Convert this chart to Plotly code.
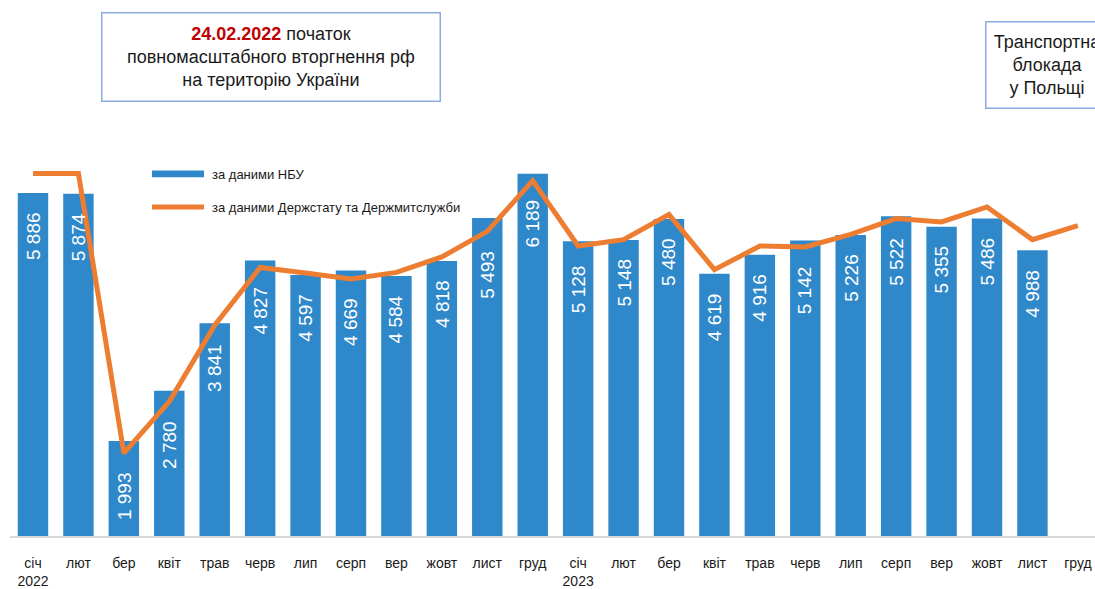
import plotly.graph_objects as go

# ---- data ----
months = ["січ<br>2022", "лют", "бер", "квіт", "трав", "черв", "лип", "серп", "вер", "жовт", "лист", "груд",
          "січ<br>2023", "лют", "бер", "квіт", "трав", "черв", "лип", "серп", "вер", "жовт", "лист", "груд"]
nbu_values = [5886, 5874, 1993, 2780, 3841, 4827, 4597, 4669, 4584, 4818, 5493, 6189,
              5128, 5148, 5480, 4619, 4916, 5142, 5226, 5522, 5355, 5486, 4988]
stat_values = [6194, 6194, 1800, 2610, 3810, 4718, 4630, 4537, 4640, 4883, 5284, 6080,
               5054, 5154, 5548, 4682, 5054, 5039, 5238, 5485, 5432, 5668, 5154, 5375]
series_names = ["за даними НБУ", "за даними Держстату та Держмитслужби"]

FONT = "Liberation Sans, Arial, sans-serif"
BLUE = "#2f88c9"
ORANGE = "#ed7d31"

xs = list(range(len(months)))

fig = go.Figure()
fig.add_trace(go.Bar(
    x=xs[:len(nbu_values)], y=nbu_values, name=series_names[0],
    marker=dict(color=BLUE, line=dict(width=0)),
    showlegend=False,
))
fig.add_trace(go.Scatter(
    x=xs, y=stat_values, name=series_names[1], mode="lines",
    line=dict(color=ORANGE, width=5),
    showlegend=False,
))

annotations = []
# bar value labels (rotated, inside the top of each bar, kept below the line)
for i, v in enumerate(nbu_values):
    anchor_val = min(v, stat_values[i])
    annotations.append(dict(
        x=i, y=anchor_val, xref="x", yref="y",
        text=f"{v:,}".replace(",", " "),
        textangle=-90, showarrow=False,
        yanchor="top", xanchor="center", yshift=-17,
        font=dict(family=FONT, size=19, color="white"),
    ))

# callout boxes
annotations.append(dict(
    x=0.2401, y=1.2097, xref="paper", yref="paper",
    xanchor="center", yanchor="middle", showarrow=False,
    text="<b><span style='color:#c00000'>24.02.2022</span></b> початок<br>повномасштабного вторгнення рф<br>на територію України",
    font=dict(family=FONT, size=18, color="#1a1a1a"),
    bordercolor="#8faadc", borderwidth=1.5, borderpad=1,
    width=335, height=85, bgcolor="white", align="center",
))
annotations.append(dict(
    x=0.9558, y=1.1886, xref="paper", yref="paper",
    xanchor="center", yanchor="middle", showarrow=False,
    text="Транспортна<br>блокада<br>у Польщі",
    font=dict(family=FONT, size=18, color="#1a1a1a"),
    bordercolor="#8faadc", borderwidth=1.5, borderpad=1,
    width=120, height=83, bgcolor="white", align="center",
))

# custom legend text
annotations.append(dict(
    x=0.1843, y=0.914, xref="paper", yref="paper", xanchor="left", yanchor="middle",
    showarrow=False, text=series_names[0], font=dict(family=FONT, size=13, color="#1a1a1a"),
))
annotations.append(dict(
    x=0.1843, y=0.8305, xref="paper", yref="paper", xanchor="left", yanchor="middle",
    showarrow=False, text=series_names[1], font=dict(family=FONT, size=13, color="#1a1a1a"),
))

shapes = [
    dict(type="rect", xref="paper", yref="paper", x0=0.1309, x1=0.1788, y0=0.9057, y1=0.9231,
         fillcolor=BLUE, line=dict(width=0)),
    dict(type="line", xref="paper", yref="paper", x0=0.1309, x1=0.1788, y0=0.8305, y1=0.8305,
         line=dict(color=ORANGE, width=5)),
]

fig.update_layout(
    width=1095, height=589,
    margin=dict(l=10, r=0, t=140, b=46),
    paper_bgcolor="white", plot_bgcolor="white",
    bargap=0.33,
    font=dict(family=FONT, size=14, color="#1a1a1a"),
    annotations=annotations, shapes=shapes,
    xaxis=dict(
        range=[-0.506, 23.377], tickvals=xs, ticktext=months,
        showgrid=False, zeroline=False, showline=True, linecolor="#d9d9d9", linewidth=1.5,
        ticks="outside", ticklen=13, tickcolor="rgba(0,0,0,0)",
        tickfont=dict(family=FONT, size=14, color="#1a1a1a"), tickangle=0,
    ),
    yaxis=dict(
        range=[500, 6719], showgrid=False, zeroline=False, showticklabels=False, showline=False,
    ),
)

fig.write_html("out.html", config={"displayModeBar": False})

# remove the default page margin so the figure sits at the window's top-left corner
with open("out.html", "r", encoding="utf-8") as f:
    html = f.read()
html = html.replace("<head>", "<head><style>html,body{margin:0;padding:0;overflow:hidden;}</style>", 1)
with open("out.html", "w", encoding="utf-8") as f:
    f.write(html)
